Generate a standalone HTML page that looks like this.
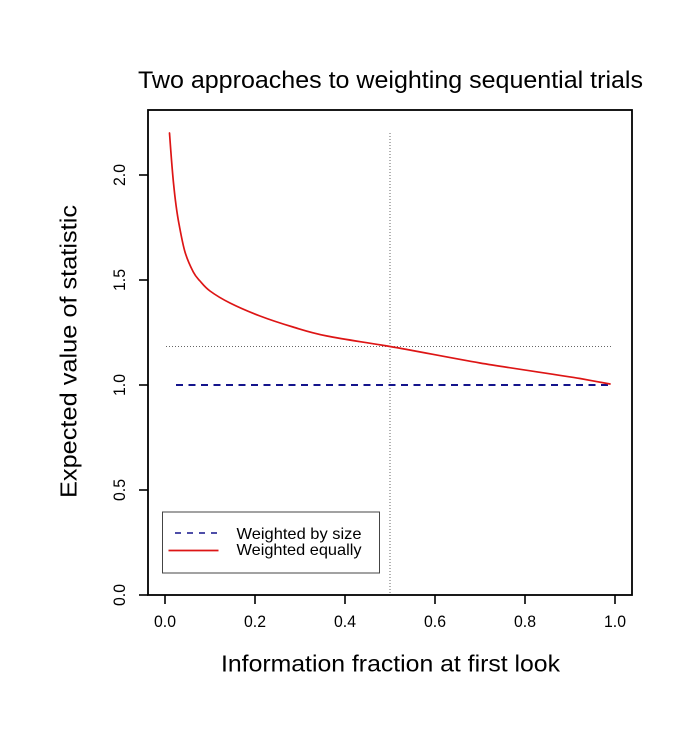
<!DOCTYPE html>
<html>
<head>
<meta charset="utf-8">
<style>
  html, body { margin: 0; padding: 0; background: #ffffff; }
  svg { display: block; }
  text { font-family: "Liberation Sans", Arial, Helvetica, sans-serif; fill: #000; }
</style>
</head>
<body>
<svg width="690" height="736" viewBox="0 0 690 736" xmlns="http://www.w3.org/2000/svg">
  <rect x="0" y="0" width="690" height="736" fill="#ffffff"/>

  <!-- Title -->
  <text x="390.5" y="88" font-size="24" text-anchor="middle" textLength="505" lengthAdjust="spacingAndGlyphs">Two approaches to weighting sequential trials</text>

  <!-- Reference dotted lines -->
  <line x1="166" y1="346.5" x2="613" y2="346.5" stroke="#666" stroke-width="1" stroke-dasharray="1 2"/>
  <line x1="390" y1="133" x2="390" y2="595" stroke="#666" stroke-width="1" stroke-dasharray="1 2"/>

  <!-- Weighted by size: blue dashed -->
  <line x1="176" y1="385" x2="612" y2="385" stroke="#14148c" stroke-width="2" stroke-dasharray="7 5.5"/>

  <!-- Weighted equally: red curve -->
  <path fill="none" stroke="#dd1515" stroke-width="1.7" stroke-linejoin="round" stroke-linecap="round"
    d="M169.5,133
       C169.83,137.5 170.83,151.67 171.5,160
       C172.17,168.33 172.75,175.5 173.5,183
       C174.25,190.5 175.08,198.17 176,205
       C176.92,211.83 177.5,216.17 179,224
       C180.5,231.83 182.62,244 185,252
       C187.38,260 190.8,267.17 193.3,272
       C195.8,276.83 197.22,277.83 200,281
       C202.78,284.17 205,287.33 210,291
       C215,294.67 221.67,298.83 230,303
       C238.33,307.17 249.5,312 260,316
       C270.5,320 281.83,323.67 293,327
       C304.17,330.33 310.83,332.75 327,336
       C343.17,339.25 364.5,342.17 390,346.5
       C415.5,350.83 448.33,357.5 480,363
       C511.67,368.3 558.33,374.83 580,378.5
       C590,380.3 605,383.08 610,384"/>

  <!-- Plot box -->
  <rect x="148" y="110" width="484" height="485" fill="none" stroke="#000" stroke-width="1.8"/>

  <!-- X ticks -->
  <g stroke="#000" stroke-width="1.6">
    <line x1="165" y1="595" x2="165" y2="604"/>
    <line x1="255" y1="595" x2="255" y2="604"/>
    <line x1="345" y1="595" x2="345" y2="604"/>
    <line x1="435" y1="595" x2="435" y2="604"/>
    <line x1="525" y1="595" x2="525" y2="604"/>
    <line x1="615" y1="595" x2="615" y2="604"/>
  </g>
  <g font-size="17" text-anchor="middle">
    <text x="165" y="627" textLength="22" lengthAdjust="spacingAndGlyphs">0.0</text>
    <text x="255" y="627" textLength="22" lengthAdjust="spacingAndGlyphs">0.2</text>
    <text x="345" y="627" textLength="22" lengthAdjust="spacingAndGlyphs">0.4</text>
    <text x="435" y="627" textLength="22" lengthAdjust="spacingAndGlyphs">0.6</text>
    <text x="525" y="627" textLength="22" lengthAdjust="spacingAndGlyphs">0.8</text>
    <text x="615" y="627" textLength="22" lengthAdjust="spacingAndGlyphs">1.0</text>
  </g>

  <!-- Y ticks -->
  <g stroke="#000" stroke-width="1.6">
    <line x1="139" y1="595" x2="148" y2="595"/>
    <line x1="139" y1="490" x2="148" y2="490"/>
    <line x1="139" y1="385" x2="148" y2="385"/>
    <line x1="139" y1="280" x2="148" y2="280"/>
    <line x1="139" y1="175" x2="148" y2="175"/>
  </g>
  <g font-size="17" text-anchor="middle">
    <text transform="translate(125,595) rotate(-90)" x="0" y="0" textLength="22" lengthAdjust="spacingAndGlyphs">0.0</text>
    <text transform="translate(125,490) rotate(-90)" x="0" y="0" textLength="22" lengthAdjust="spacingAndGlyphs">0.5</text>
    <text transform="translate(125,385) rotate(-90)" x="0" y="0" textLength="22" lengthAdjust="spacingAndGlyphs">1.0</text>
    <text transform="translate(125,280) rotate(-90)" x="0" y="0" textLength="22" lengthAdjust="spacingAndGlyphs">1.5</text>
    <text transform="translate(125,175) rotate(-90)" x="0" y="0" textLength="22" lengthAdjust="spacingAndGlyphs">2.0</text>
  </g>

  <!-- Axis labels -->
  <text x="390.5" y="671.5" font-size="23" text-anchor="middle" textLength="339" lengthAdjust="spacingAndGlyphs">Information fraction at first look</text>
  <text transform="translate(76.5,351.5) rotate(-90)" x="0" y="0" font-size="23" text-anchor="middle" textLength="293" lengthAdjust="spacingAndGlyphs">Expected value of statistic</text>

  <!-- Legend -->
  <rect x="162.5" y="512" width="217" height="61" fill="#ffffff" stroke="#444" stroke-width="1"/>
  <line x1="175" y1="533" x2="219" y2="533" stroke="#14148c" stroke-width="1.6" stroke-dasharray="6 6"/>
  <line x1="168.5" y1="550.5" x2="218.5" y2="550.5" stroke="#dd1515" stroke-width="1.8"/>
  <text x="236.5" y="539" font-size="16" textLength="125" lengthAdjust="spacingAndGlyphs">Weighted by size</text>
  <text x="236.5" y="555" font-size="16" textLength="125" lengthAdjust="spacingAndGlyphs">Weighted equally</text>
</svg>
</body>
</html>
